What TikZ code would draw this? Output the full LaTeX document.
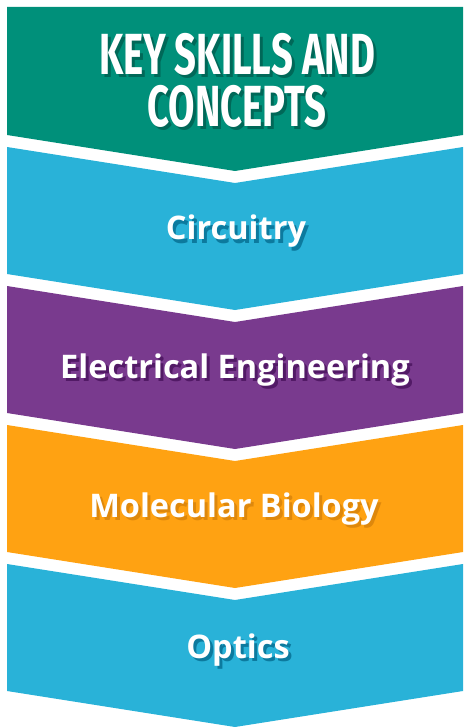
\documentclass[tikz,border=0pt]{standalone}
\usepackage{fontspec}
\setmainfont{Open Sans}
\newfontfamily\titlefont[FakeStretch=0.66]{Fira Sans}
\definecolor{bandgreen}{RGB}{0,144,122}
\definecolor{bandblue}{RGB}{41,178,216}
\definecolor{bandpurple}{RGB}{121,58,142}
\definecolor{bandorange}{RGB}{255,162,18}
\definecolor{shadegreen}{RGB}{0,104,88}
\definecolor{shadeblue}{RGB}{12,122,158}
\definecolor{shadepurple}{RGB}{82,26,102}
\definecolor{shadeorange}{RGB}{222,136,12}
\begin{document}
\begin{tikzpicture}[x=1pt,y=-1pt,
    skill/.style={anchor=base,inner sep=0pt,text=white,font=\fontsize{32.5}{35}\selectfont\bfseries},
    title/.style={anchor=base,inner sep=0pt,text=white,align=center,
      font=\titlefont\fontsize{58}{52}\selectfont\bfseries}]
  \useasboundingbox (0,0) rectangle (464,727);
  % bands
  \fill[bandgreen] (7,7) -- (463,7) -- (463,135) -- (235,171) -- (7,135) -- cycle;
  \fill[bandblue] (7,147) -- (235,183) -- (463,147) -- (463,274) -- (235,310) -- (7,274) -- cycle;
  \fill[bandpurple] (7,286) -- (235,322) -- (463,286) -- (463,413) -- (235,449) -- (7,413) -- cycle;
  \fill[bandorange] (7,425) -- (235,461) -- (463,425) -- (463,552) -- (235,588) -- (7,552) -- cycle;
  \fill[bandblue] (7,564) -- (235,600) -- (463,564) -- (463,691) -- (235,727) -- (7,691) -- cycle;
  % labels with their shadows
  \node[title,text=shadegreen] (titleshade) at (240,130) {KEY SKILLS AND\\CONCEPTS};
  \node[title] (title) at (237,127) {KEY SKILLS AND\\CONCEPTS};
  \node[skill,text=shadeblue] (circshade) at (239,243) {Circuitry};
  \node[skill] (circ) at (236,240) {Circuitry};
  \node[skill,text=shadepurple] (eleshade) at (238,381) {Electrical Engineering};
  \node[skill] (ele) at (235,378) {Electrical Engineering};
  \node[skill,text=shadeorange] (molshade) at (237,520) {Molecular Biology};
  \node[skill] (mol) at (234,517) {Molecular Biology};
  \node[skill,text=shadeblue] (optshade) at (241,661) {Optics};
  \node[skill] (opt) at (238,658) {Optics};
\end{tikzpicture}
\end{document}
